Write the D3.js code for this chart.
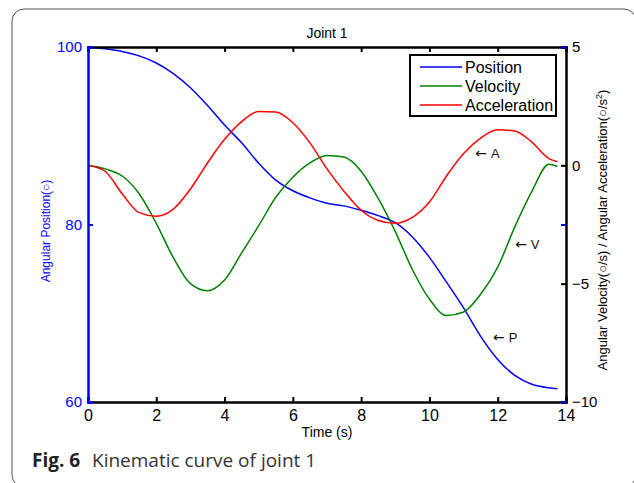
<!DOCTYPE html>
<html lang="en">

<head>
    <meta charset="UTF-8">
    <script src="https://d3js.org/d3.v7.min.js"></script>
    <title>Joint 1 kinematic curve</title>
    <style>
        body {
            margin: 0;
            background: #fff;
        }

        svg {
            display: block;
            font-family: "Liberation Sans", Arial, sans-serif;
        }
    </style>
</head>

<body>
    <svg width="634" height="483"></svg>
</body>
<script>
    // time (s)
    const time = [0, 0.5, 1, 1.5, 2, 2.5, 3, 3.5, 4, 4.5, 5, 5.5, 6, 6.5, 7, 7.5, 8, 8.5, 9, 9.5, 10, 10.5, 11, 11.5, 12, 12.5, 13, 13.5, 13.75]
    // angular position (deg) - left axis
    const position = [100, 99.8, 99.5, 99.0, 98.2, 97.0, 95.4, 93.4, 91.2, 89.2, 86.9, 85.0, 83.8, 83.0, 82.4, 82.1, 81.6, 81.0, 80.2, 78.6, 76.3, 73.5, 70.6, 67.4, 64.8, 63.0, 62.0, 61.6, 61.5]
    // angular velocity (deg/s) - right axis
    const velocity = [0, -0.15, -0.45, -1.2, -2.45, -3.9, -5.0, -5.3, -4.85, -3.7, -2.55, -1.35, -0.5, 0.1, 0.42, 0.35, -0.25, -1.4, -2.8, -4.4, -5.65, -6.35, -6.2, -5.45, -4.3, -2.6, -1.1, 0.05, -0.05]
    // angular acceleration (deg/s^2) - right axis
    const acceleration = [0, -0.25, -1.2, -2.0, -2.15, -1.85, -1.0, 0.1, 1.1, 1.85, 2.27, 2.25, 1.8, 0.95, -0.15, -1.1, -1.9, -2.33, -2.45, -2.2, -1.55, -0.45, 0.5, 1.15, 1.5, 1.45, 0.98, 0.28, 0.15]

    const xTicks = [0, 2, 4, 6, 8, 10, 12, 14]
    const leftTicks = [60, 80, 100]
    const rightTicks = [-10, -5, 0, 5]
    const seriesNames = ["Position", "Velocity", "Acceleration"]
    const seriesColors = ["#0000ff", "#008000", "#ff0000"]

    const plot = { left: 88, right: 566, top: 47, bottom: 402 }

    const svg = d3.select("svg")

    // outer figure frame
    svg.append("rect")
        .attr("x", 12).attr("y", 9)
        .attr("width", 624).attr("height", 478)
        .attr("rx", 12)
        .attr("fill", "none")
        .attr("stroke", "#555")
        .attr("stroke-width", 1)

    const x = d3.scaleLinear().domain([0, 14]).range([plot.left, plot.right])
    const yL = d3.scaleLinear().domain([60, 100]).range([plot.bottom, plot.top])
    const yR = d3.scaleLinear().domain([-10, 5]).range([plot.bottom, plot.top])

    // curves
    const line = (scale, vals) => d3.line()
        .x((d, i) => x(time[i]))
        .y(d => scale(d))
        .curve(d3.curveMonotoneX)(vals)

    const series = [
        { vals: position, scale: yL },
        { vals: velocity, scale: yR },
        { vals: acceleration, scale: yR }
    ]
    series.forEach((s, i) => {
        svg.append("path")
            .attr("d", line(s.scale, s.vals))
            .attr("fill", "none")
            .attr("stroke", seriesColors[i])
            .attr("stroke-width", 1.5)
    })

    // axes (MATLAB plotyy style, ticks inside)
    const bottomAxis = d3.axisBottom(x).tickValues(xTicks).tickSize(-5).tickPadding(8)
    const topAxis = d3.axisTop(x).tickValues(xTicks).tickSize(-5).tickFormat("")
    const leftAxis = d3.axisLeft(yL).tickValues(leftTicks).tickSize(-5).tickPadding(6)
    const rightAxis = d3.axisRight(yR).tickValues(rightTicks).tickSize(-5).tickPadding(6)

    const gTop = svg.append("g").attr("transform", `translate(0,${plot.top})`).call(topAxis)
    const gBottom = svg.append("g").attr("transform", `translate(0,${plot.bottom})`).call(bottomAxis)
    const gRight = svg.append("g").attr("transform", `translate(${plot.right},0)`).call(rightAxis)
    // left axis ticks mirrored on right side
    svg.append("g").attr("transform", `translate(${plot.right},0)`)
        .call(d3.axisRight(yL).tickValues(leftTicks).tickSize(-5).tickFormat(""))
        .call(g => g.select(".domain").remove())
        .selectAll("line").attr("stroke", "#0000ff").attr("stroke-width", 2)
    const gLeft = svg.append("g").attr("transform", `translate(${plot.left},0)`).call(leftAxis)

    ;[gTop, gBottom, gRight].forEach(g => {
        g.select(".domain").attr("stroke", "#000").attr("stroke-width", 2.5)
        g.selectAll(".tick line").attr("stroke", "#000").attr("stroke-width", 2)
        g.selectAll("text").attr("fill", "#000").attr("font-size", 15)
            .attr("font-family", "Liberation Sans, Arial, sans-serif")
    })
    gLeft.select(".domain").attr("stroke", "#0000ff").attr("stroke-width", 2.5)
    gLeft.selectAll(".tick line").attr("stroke", "#0000ff").attr("stroke-width", 2)
    gLeft.selectAll("text").attr("fill", "#0000ff").attr("font-size", 15)
        .attr("font-family", "Liberation Sans, Arial, sans-serif")
    gBottom.selectAll("text").attr("font-size", 16)

    // title and axis labels
    svg.append("text")
        .attr("x", 327).attr("y", 38)
        .attr("text-anchor", "middle")
        .attr("font-size", 14)
        .text("Joint 1")

    svg.append("text")
        .attr("x", (plot.left + plot.right) / 2).attr("y", 437)
        .attr("text-anchor", "middle")
        .attr("font-size", 14)
        .text("Time (s)")

    svg.append("text")
        .attr("transform", "translate(50,231) rotate(-90)")
        .attr("text-anchor", "middle")
        .attr("font-size", 12)
        .attr("fill", "#0000ff")
        .text("Angular Position(\u25CB)")

    const rl = svg.append("text")
        .attr("transform", "translate(607,230) rotate(-90)")
        .attr("text-anchor", "middle")
        .attr("font-size", 13)
        .attr("fill", "#000")
    rl.append("tspan").text("Angular Velocity(\u25CB/s) / Angular Acceleration(\u25CB/s")
    rl.append("tspan").attr("font-size", 9).attr("dy", -5).text("2")
    rl.append("tspan").attr("dy", 5).text(")")

    // legend
    const legend = svg.append("g")
    legend.append("rect")
        .attr("x", 410).attr("y", 55)
        .attr("width", 146).attr("height", 61)
        .attr("fill", "#fff")
        .attr("stroke", "#000")
        .attr("stroke-width", 2)
    seriesNames.forEach((name, i) => {
        const ly = 67 + i * 19
        legend.append("line")
            .attr("x1", 420).attr("x2", 462)
            .attr("y1", ly).attr("y2", ly)
            .attr("stroke", seriesColors[i])
            .attr("stroke-width", 1.5)
        legend.append("text")
            .attr("x", 465).attr("y", ly + 5.5)
            .attr("font-size", 16)
            .text(name)
    })

    // arrows pointing at the curves
    const notes = [
        { t: 11.34, v: 0.31, scale: yR, label: "A" },
        { t: 12.51, v: -3.53, scale: yR, label: "V" },
        { t: 11.86, v: 66.76, scale: yL, label: "P" }
    ]
    notes.forEach(n => {
        const t = svg.append("text")
            .attr("x", x(n.t)).attr("y", n.scale(n.v))
            .attr("font-size", 13)
            .attr("fill", "#111")
        t.append("tspan").attr("font-family", "DejaVu Sans").attr("font-size", 14).text("\u2190")
        t.append("tspan").attr("dx", 4).text(n.label)
    })

    // caption
    const cap = svg.append("text")
        .attr("x", 32).attr("y", 467)
        .attr("font-family", "Open Sans, Noto Sans, sans-serif")
        .attr("font-size", 19)
    cap.append("tspan").attr("font-weight", "bold").attr("fill", "#222").text("Fig. 6")
    cap.append("tspan").attr("x", 92).attr("font-weight", "normal").attr("fill", "#333").text("Kinematic curve of joint 1")
</script>

</html>
